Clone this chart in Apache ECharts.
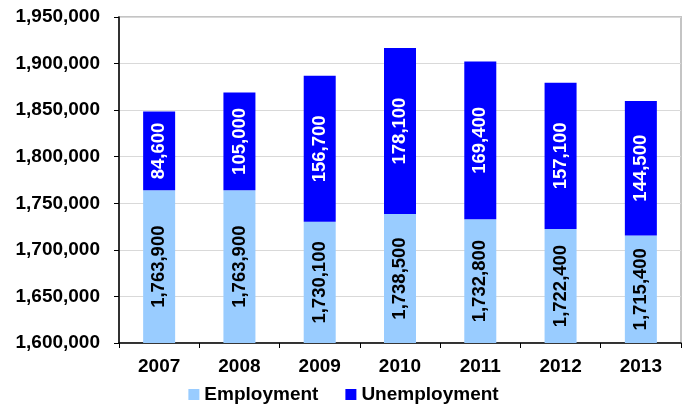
<!DOCTYPE html>
<html>
<head>
<meta charset="utf-8">
<script src="https://cdn.jsdelivr.net/npm/echarts@6/dist/echarts.min.js"></script>
<style>
html,body{margin:0;padding:0;background:#fff;}
#main{width:687px;height:406px;}
</style>
</head>
<body>
<div id="main"></div>
<script>
var years = ['2007','2008','2009','2010','2011','2012','2013'];
var employment = [1763900, 1763900, 1730100, 1738500, 1732800, 1722400, 1715400];
var unemployment = [84600, 105000, 156700, 178100, 169400, 157100, 144500];
var yTicks = {min: 1600000, max: 1950000, interval: 50000};

function fmt(v){ return Number(v).toLocaleString('en-US'); }

var chart = echarts.init(document.getElementById('main'));
var font = 'Liberation Sans, Arial, sans-serif';
chart.setOption({
  animation: false,
  grid: {left: 119, right: 6, top: 17, bottom: 63, show: true, borderColor: '#c4c4c4', borderWidth: 2, backgroundColor: 'transparent'},
  legend: {
    top: 385, left: 'center', padding: 0,
    itemWidth: 11, itemHeight: 11, itemGap: 27,
    icon: 'rect',
    textStyle: {fontFamily: font, fontWeight: 'bold', fontSize: 19, color: '#000'},
    data: ['Employment', 'Unemployment']
  },
  xAxis: {
    type: 'category', data: years,
    axisLine: {lineStyle: {color: '#000', width: 1.5}},
    axisTick: {show: true, length: 5, lineStyle: {color: '#000'}},
    axisLabel: {fontFamily: font, fontWeight: 'bold', fontSize: 19, color: '#000', margin: 14}
  },
  yAxis: {
    type: 'value', min: yTicks.min, max: yTicks.max, interval: yTicks.interval,
    axisLine: {show: true, lineStyle: {color: '#000', width: 1.5}},
    axisTick: {show: true, length: 5, lineStyle: {color: '#000'}},
    splitLine: {lineStyle: {color: '#d9d9d9'}},
    axisLabel: {fontFamily: font, fontWeight: 'bold', fontSize: 19, color: '#000', margin: 19, formatter: fmt}
  },
  series: [{
    name: 'Employment', type: 'bar', stack: 'a', data: employment,
    barWidth: 32,
    itemStyle: {color: '#99ccff'},
    label: {show: true, position: 'inside', rotate: 90, fontFamily: font, fontWeight: 'bold', fontSize: 18.5, color: '#000',
      formatter: function(p){ return fmt(p.value); }}
  }, {
    name: 'Unemployment', type: 'bar', stack: 'a', data: unemployment,
    barWidth: 32,
    itemStyle: {color: '#0000ff'},
    label: {show: true, position: 'inside', rotate: 90, fontFamily: font, fontWeight: 'bold', fontSize: 18.5, color: '#fff',
      formatter: function(p){ return fmt(p.value); }}
  }]
});
</script>
</body>
</html>
